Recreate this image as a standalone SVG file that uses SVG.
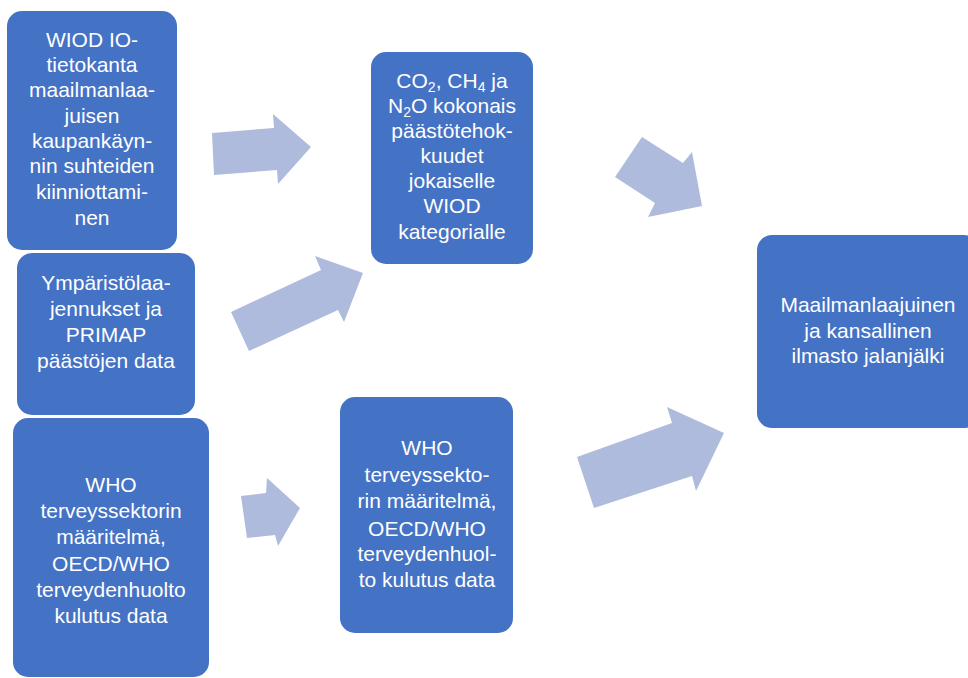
<svg xmlns="http://www.w3.org/2000/svg" width="968" height="678" viewBox="0 0 968 678">
<style>
.box{fill:#4472C4;}
.arr{fill:#AFBBDD;}
.t{font-family:"Liberation Sans",Arial,sans-serif;font-size:21px;fill:#FFFFFF;text-anchor:middle;}
.sub{font-size:14px;}
</style>
<rect x="0" y="0" width="968" height="678" fill="#FFFFFF"/>
<g id="connectors">
<polygon class="arr" points="212,133 274,128 273,114 311,147 278,184 277,170 214,175"/>
<polygon class="arr" points="231,312 321,270 315,256 363,273 344,322 338,310 249,351"/>
<polygon class="arr" points="642,137 683,163 692,152 702,206 648,217 655,203 615,177"/>
<polygon class="arr" points="241,496 266,493 267,478 300,508 278,546 275,535 247,538"/>
<polygon class="arr" points="577,457 672,423 667,407 724,433 696,491 692,476 594,508"/>
</g>
<g id="node-wiod">
<rect class="box" x="7" y="11" width="170" height="239" rx="15"/>
<text class="t"><tspan x="92" y="47">WIOD IO-</tspan><tspan x="92" y="72">tietokanta</tspan><tspan x="92" y="97">maailmanlaa-</tspan><tspan x="92" y="123">juisen</tspan><tspan x="92" y="148">kaupankäyn-</tspan><tspan x="92" y="173">nin suhteiden</tspan><tspan x="92" y="199">kiinniottami-</tspan><tspan x="92" y="225">nen</tspan></text>
</g>
<g id="node-ymparisto">
<rect class="box" x="17" y="253" width="178" height="162" rx="15"/>
<text class="t"><tspan x="106" y="290">Ympäristölaa-</tspan><tspan x="106" y="316">jennukset ja</tspan><tspan x="106" y="342">PRIMAP</tspan><tspan x="106" y="368">päästöjen data</tspan></text>
</g>
<g id="node-who-left">
<rect class="box" x="13" y="418" width="196" height="259" rx="15"/>
<text class="t"><tspan x="111" y="492">WHO</tspan><tspan x="111" y="518">terveyssektorin</tspan><tspan x="111" y="544">määritelmä,</tspan><tspan x="111" y="571">OECD/WHO</tspan><tspan x="111" y="597">terveydenhuolto</tspan><tspan x="111" y="623">kulutus data</tspan></text>
</g>
<g id="node-co2">
<rect class="box" x="371" y="52" width="162" height="212" rx="15"/>
<text class="t"><tspan x="452" y="88">CO<tspan class="sub" dy="4">2</tspan><tspan dy="-4">, CH</tspan><tspan class="sub" dy="4">4</tspan><tspan dy="-4"> ja</tspan></tspan><tspan x="452" y="113">N<tspan class="sub" dy="4">2</tspan><tspan dy="-4">O kokonais</tspan></tspan><tspan x="452" y="138">päästötehok-</tspan><tspan x="452" y="163">kuudet</tspan><tspan x="452" y="188">jokaiselle</tspan><tspan x="452" y="213">WIOD</tspan><tspan x="452" y="239">kategorialle</tspan></text>
</g>
<g id="node-who-mid">
<rect class="box" x="340" y="397" width="173" height="236" rx="15"/>
<text class="t"><tspan x="427" y="455">WHO</tspan><tspan x="427" y="482">terveyssekto-</tspan><tspan x="427" y="508">rin määritelmä,</tspan><tspan x="427" y="536">OECD/WHO</tspan><tspan x="427" y="561">terveydenhuol-</tspan><tspan x="427" y="587">to kulutus data</tspan></text>
</g>
<g id="node-maailman">
<rect class="box" x="757" y="235" width="222" height="193" rx="15"/>
<text class="t"><tspan x="868" y="312">Maailmanlaajuinen</tspan><tspan x="868" y="338">ja kansallinen</tspan><tspan x="868" y="363">ilmasto jalanjälki</tspan></text>
</g>
</svg>
